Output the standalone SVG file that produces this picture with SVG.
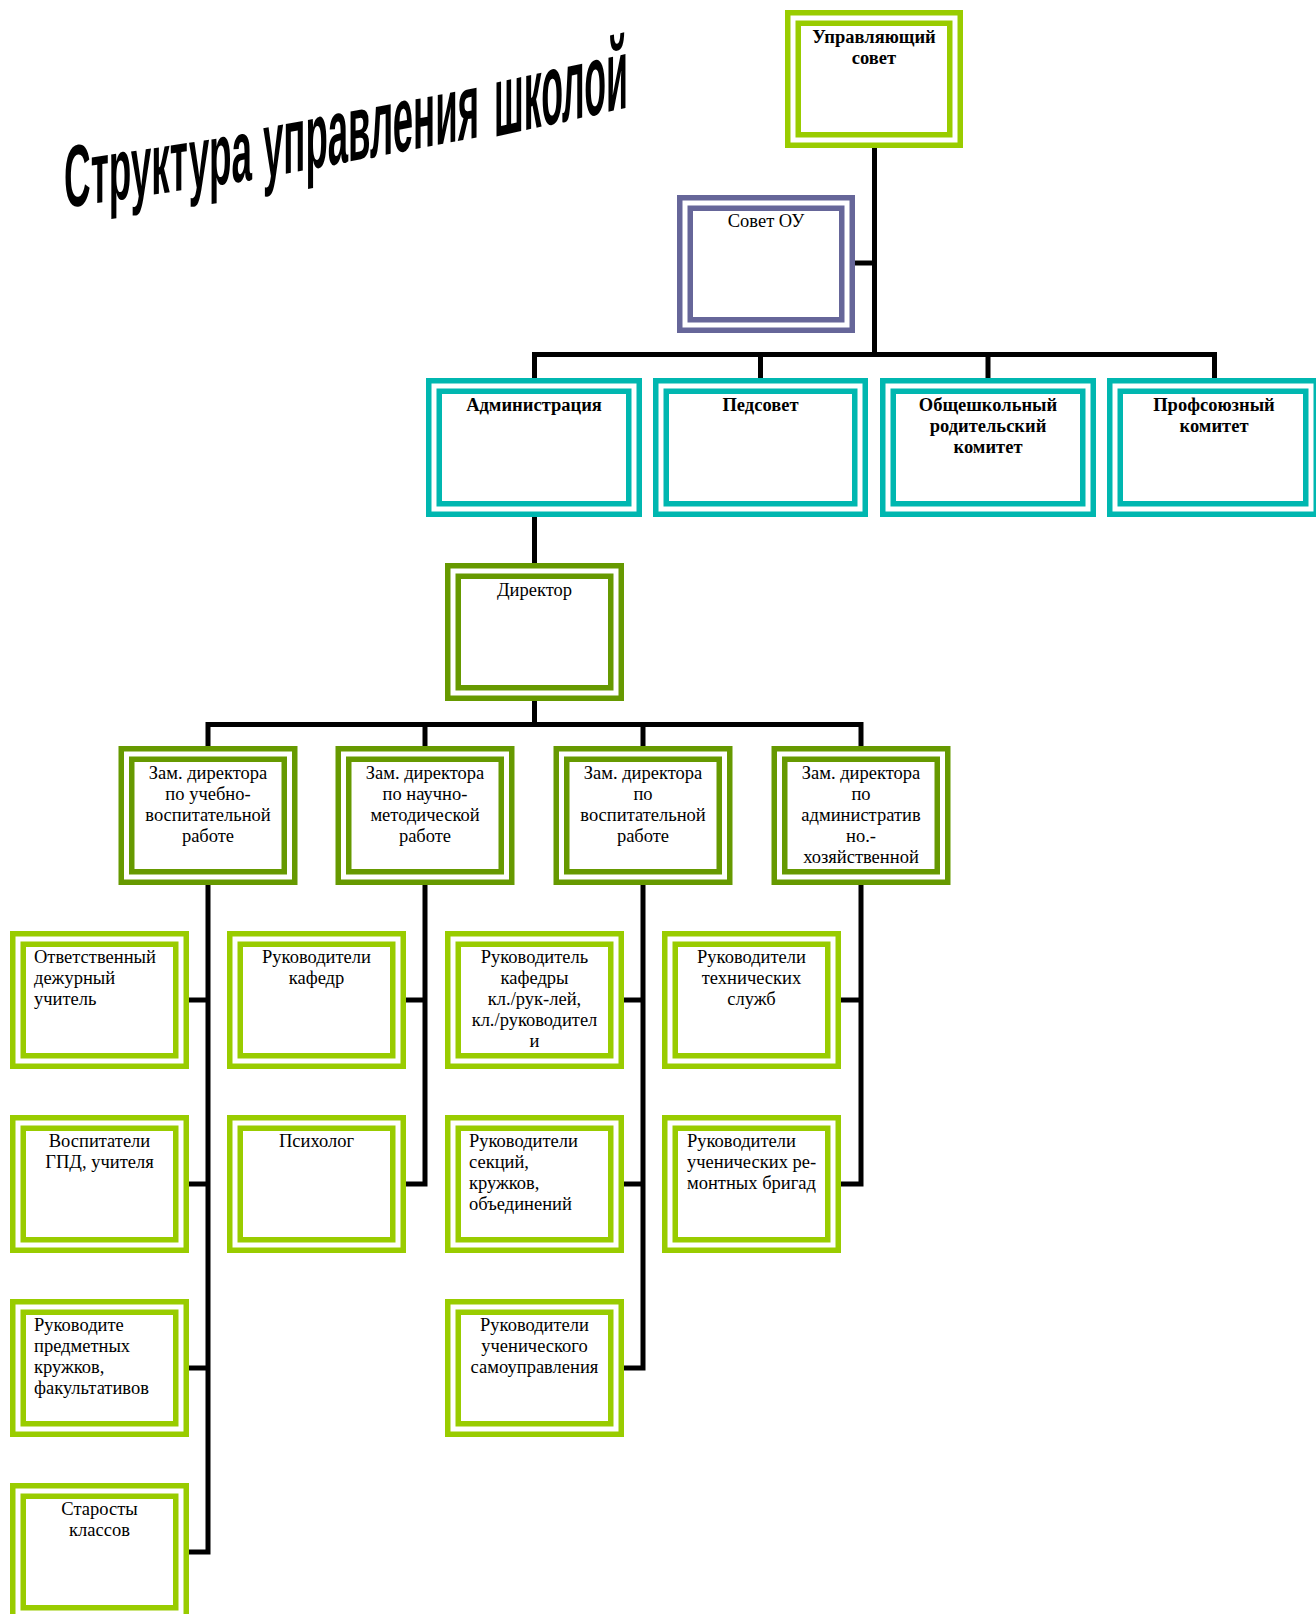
<svg xmlns="http://www.w3.org/2000/svg" width="1316" height="1614" viewBox="0 0 1316 1614">
<style>
.bg{fill:#ffffff}
.o,.i{fill:#ffffff;stroke-width:5.5}
.lg .o,.lg .i{stroke:#99cc00}
.dg .o,.dg .i{stroke:#669900}
.tl .o,.tl .i{stroke:#00b7b0}
.pu .o,.pu .i{stroke:#666699}
text.t{font-family:"Liberation Serif","Times New Roman",serif;font-size:18.5px;fill:#000}
text.c{text-anchor:middle}
text.b{font-weight:bold}
.conn path{fill:none;stroke:#000;stroke-width:5;stroke-linejoin:miter;stroke-linecap:butt}
.title{font-family:"Liberation Sans",Arial,sans-serif;font-weight:bold;fill:#000}
</style>
<rect class="bg" x="0" y="0" width="1316" height="1614"/>

<g id="title">
<text class="title" x="64" y="217.6" font-size="88" textLength="188" lengthAdjust="spacingAndGlyphs" transform="skewY(-8.53)">Структура</text>
<text class="title" x="263" y="228" font-size="94" textLength="216" lengthAdjust="spacingAndGlyphs" transform="skewY(-10.76)">управления</text>
<text class="title" x="494" y="245.7" font-size="102" textLength="134" lengthAdjust="spacingAndGlyphs" transform="skewY(-12.41)">школой</text>
</g>

<g id="connectors" class="conn">
<path d="M874.5 148 V354.5"/>
<path d="M855 263 H874.5"/>
<path d="M534.5 378 V354.5 H1214.5 V378"/>
<path d="M760.5 354.5 V378"/>
<path d="M988 354.5 V378"/>
<path d="M534.5 517 V563"/>
<path d="M534.5 701 V724.5"/>
<path d="M208 746 V724.5 H861 V746"/>
<path d="M425 724.5 V746"/>
<path d="M643 724.5 V746"/>
<path d="M208 885 V1552 H189"/>
<path d="M189 1000 H208"/>
<path d="M189 1184 H208"/>
<path d="M189 1368 H208"/>
<path d="M425 885 V1184 H406"/>
<path d="M406 1000 H425"/>
<path d="M643 885 V1368 H624"/>
<path d="M624 1000 H643"/>
<path d="M624 1184 H643"/>
<path d="M861 885 V1184 H841"/>
<path d="M841 1000 H861"/>
</g>

<g id="upr" class="lg">
<rect class="o" x="787.75" y="12.75" width="172.5" height="132.5"/>
<rect class="i" x="798.25" y="23.25" width="151.5" height="111.5"/>
<text class="t c b" x="874" y="43">Управляющий</text>
<text class="t c b" x="874" y="64">совет</text>
</g>

<g id="sovet" class="pu">
<rect class="o" x="679.75" y="197.75" width="172.5" height="132.5"/>
<rect class="i" x="690.25" y="208.25" width="151.5" height="111.5"/>
<text class="t c" x="766" y="227">Совет ОУ</text>
</g>

<g id="adm" class="tl">
<rect class="o" x="428.75" y="380.75" width="210.5" height="133.5"/>
<rect class="i" x="439.25" y="391.25" width="189.5" height="112.5"/>
<text class="t c b" x="534" y="411">Администрация</text>
</g>

<g id="ped" class="tl">
<rect class="o" x="655.75" y="380.75" width="209.5" height="133.5"/>
<rect class="i" x="666.25" y="391.25" width="188.5" height="112.5"/>
<text class="t c b" x="760.5" y="411">Педсовет</text>
</g>

<g id="obsh" class="tl">
<rect class="o" x="882.75" y="380.75" width="210.5" height="133.5"/>
<rect class="i" x="893.25" y="391.25" width="189.5" height="112.5"/>
<text class="t c b" x="988" y="411">Общешкольный</text>
<text class="t c b" x="988" y="432">родительский</text>
<text class="t c b" x="988" y="453">комитет</text>
</g>

<g id="prof" class="tl">
<rect class="o" x="1109.75" y="380.75" width="206.5" height="133.5"/>
<rect class="i" x="1120.25" y="391.25" width="185.5" height="112.5"/>
<text class="t c b" x="1214" y="411">Профсоюзный</text>
<text class="t c b" x="1214" y="432">комитет</text>
</g>

<g id="dir" class="dg">
<rect class="o" x="447.75" y="565.75" width="173.5" height="132.5"/>
<rect class="i" x="458.25" y="576.25" width="152.5" height="111.5"/>
<text class="t c" x="534.5" y="596">Директор</text>
</g>

<g id="zam1" class="dg">
<rect class="o" x="121.25" y="748.75" width="173.5" height="133.5"/>
<rect class="i" x="131.75" y="759.25" width="152.5" height="112.5"/>
<text class="t c" x="208" y="779">Зам. директора</text>
<text class="t c" x="208" y="800">по учебно-</text>
<text class="t c" x="208" y="821">воспитательной</text>
<text class="t c" x="208" y="842">работе</text>
</g>

<g id="zam2" class="dg">
<rect class="o" x="338.25" y="748.75" width="173.5" height="133.5"/>
<rect class="i" x="348.75" y="759.25" width="152.5" height="112.5"/>
<text class="t c" x="425" y="779">Зам. директора</text>
<text class="t c" x="425" y="800">по научно-</text>
<text class="t c" x="425" y="821">методической</text>
<text class="t c" x="425" y="842">работе</text>
</g>

<g id="zam3" class="dg">
<rect class="o" x="556.25" y="748.75" width="173.5" height="133.5"/>
<rect class="i" x="566.75" y="759.25" width="152.5" height="112.5"/>
<text class="t c" x="643" y="779">Зам. директора</text>
<text class="t c" x="643" y="800">по</text>
<text class="t c" x="643" y="821">воспитательной</text>
<text class="t c" x="643" y="842">работе</text>
</g>

<g id="zam4" class="dg">
<rect class="o" x="774.25" y="748.75" width="173.5" height="133.5"/>
<rect class="i" x="784.75" y="759.25" width="152.5" height="112.5"/>
<text class="t c" x="861" y="779">Зам. директора</text>
<text class="t c" x="861" y="800">по</text>
<text class="t c" x="861" y="821">административ</text>
<text class="t c" x="861" y="842">но.-</text>
<text class="t c" x="861" y="863">хозяйственной</text>
</g>

<g id="c1r1" class="lg">
<rect class="o" x="12.75" y="933.75" width="173.5" height="132.5"/>
<rect class="i" x="23.25" y="944.25" width="152.5" height="111.5"/>
<text class="t" x="34" y="963">Ответственный</text>
<text class="t" x="34" y="984">дежурный</text>
<text class="t" x="34" y="1005">учитель</text>
</g>

<g id="c1r2" class="lg">
<rect class="o" x="12.75" y="1117.75" width="173.5" height="132.5"/>
<rect class="i" x="23.25" y="1128.25" width="152.5" height="111.5"/>
<text class="t c" x="99.5" y="1147">Воспитатели</text>
<text class="t c" x="99.5" y="1168">ГПД, учителя</text>
</g>

<g id="c1r3" class="lg">
<rect class="o" x="12.75" y="1301.75" width="173.5" height="132.5"/>
<rect class="i" x="23.25" y="1312.25" width="152.5" height="111.5"/>
<text class="t" x="34" y="1331">Руководите</text>
<text class="t" x="34" y="1352">предметных</text>
<text class="t" x="34" y="1373">кружков,</text>
<text class="t" x="34" y="1394">факультативов</text>
</g>

<g id="c1r4" class="lg">
<rect class="o" x="12.75" y="1485.75" width="173.5" height="132.5"/>
<rect class="i" x="23.25" y="1496.25" width="152.5" height="111.5"/>
<text class="t c" x="99.5" y="1515">Старосты</text>
<text class="t c" x="99.5" y="1536">классов</text>
</g>

<g id="c2r1" class="lg">
<rect class="o" x="229.75" y="933.75" width="173.5" height="132.5"/>
<rect class="i" x="240.25" y="944.25" width="152.5" height="111.5"/>
<text class="t c" x="316.5" y="963">Руководители</text>
<text class="t c" x="316.5" y="984">кафедр</text>
</g>

<g id="c2r2" class="lg">
<rect class="o" x="229.75" y="1117.75" width="173.5" height="132.5"/>
<rect class="i" x="240.25" y="1128.25" width="152.5" height="111.5"/>
<text class="t c" x="316.5" y="1147">Психолог</text>
</g>

<g id="c3r1" class="lg">
<rect class="o" x="447.75" y="933.75" width="173.5" height="132.5"/>
<rect class="i" x="458.25" y="944.25" width="152.5" height="111.5"/>
<text class="t c" x="534.5" y="963">Руководитель</text>
<text class="t c" x="534.5" y="984">кафедры</text>
<text class="t c" x="534.5" y="1005">кл./рук-лей,</text>
<text class="t c" x="534.5" y="1026">кл./руководител</text>
<text class="t c" x="534.5" y="1047">и</text>
</g>

<g id="c3r2" class="lg">
<rect class="o" x="447.75" y="1117.75" width="173.5" height="132.5"/>
<rect class="i" x="458.25" y="1128.25" width="152.5" height="111.5"/>
<text class="t" x="469" y="1147">Руководители</text>
<text class="t" x="469" y="1168">секций,</text>
<text class="t" x="469" y="1189">кружков,</text>
<text class="t" x="469" y="1210">объединений</text>
</g>

<g id="c3r3" class="lg">
<rect class="o" x="447.75" y="1301.75" width="173.5" height="132.5"/>
<rect class="i" x="458.25" y="1312.25" width="152.5" height="111.5"/>
<text class="t c" x="534.5" y="1331">Руководители</text>
<text class="t c" x="534.5" y="1352">ученического</text>
<text class="t c" x="534.5" y="1373">самоуправления</text>
</g>

<g id="c4r1" class="lg">
<rect class="o" x="664.75" y="933.75" width="173.5" height="132.5"/>
<rect class="i" x="675.25" y="944.25" width="152.5" height="111.5"/>
<text class="t c" x="751.5" y="963">Руководители</text>
<text class="t c" x="751.5" y="984">технических</text>
<text class="t c" x="751.5" y="1005">служб</text>
</g>

<g id="c4r2" class="lg">
<rect class="o" x="664.75" y="1117.75" width="173.5" height="132.5"/>
<rect class="i" x="675.25" y="1128.25" width="152.5" height="111.5"/>
<text class="t" x="687" y="1147">Руководители</text>
<text class="t" x="687" y="1168">ученических ре-</text>
<text class="t" x="687" y="1189">монтных бригад</text>
</g>
</svg>
